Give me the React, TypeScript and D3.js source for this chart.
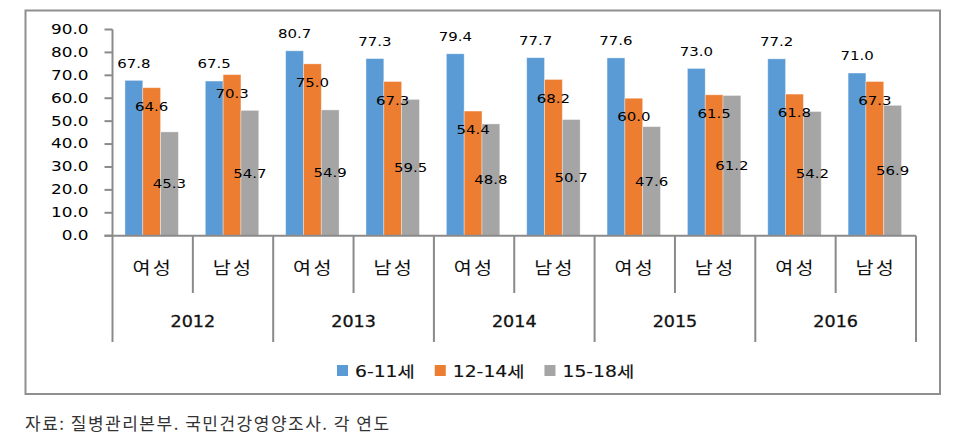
import { useRef, useEffect } from "react"
import * as d3 from "d3"

// data
const years = ["2012", "2013", "2014", "2015", "2016"]
const sexes = ["여성", "남성"]
const seriesNames = ["6-11세", "12-14세", "15-18세"]
const age6to11 = [67.8, 67.5, 80.7, 77.3, 79.4, 77.7, 77.6, 73.0, 77.2, 71.0]
const age12to14 = [64.6, 70.3, 75.0, 67.3, 54.4, 68.2, 60.0, 61.5, 61.8, 67.3]
const age15to18 = [45.3, 54.7, 54.9, 59.5, 48.8, 50.7, 47.6, 61.2, 54.2, 56.9]
const colors = ["#5B9BD5", "#ED7D31", "#A5A5A5"]
const source = "자료: 질병관리본부. 국민건강영양조사. 각 연도"

const LATIN = "'DejaVu Sans', 'Noto Sans CJK KR', sans-serif"
const KOREAN = "'Noto Sans CJK KR', sans-serif"

export default function App() {
  const svgRef = useRef<SVGSVGElement>(null)

  useEffect(() => {
    if (!svgRef.current) return
    const svg = d3.select(svgRef.current)
    svg.selectAll("*").remove()

    const left = 112.5
    const right = 916
    const top = 29.5
    const bottom = 235.7
    const axisColor = "#8a8a8a"

    // outer frame
    svg
      .append("rect")
      .attr("x", 25.5)
      .attr("y", 10.5)
      .attr("width", 914.5)
      .attr("height", 383.5)
      .attr("fill", "white")
      .attr("stroke", "#8f8f8f")
      .attr("stroke-width", 2)

    const cats = years.flatMap((yr) => sexes.map((s) => `${yr}|${s}`))
    const x0 = d3.scaleBand().domain(cats).range([left, right]).padding(0)
    const bw = x0.bandwidth()
    const cluster = bw * 0.665
    const x1 = d3
      .scaleBand()
      .domain(seriesNames)
      .range([(bw - cluster) / 2 - 1, (bw + cluster) / 2 - 1])
      .padding(0)
    const y = d3.scaleLinear().domain([0, 90]).range([bottom, top])

    const rows = cats.map((c, i) => ({
      cat: c,
      values: [age6to11[i], age12to14[i], age15to18[i]],
    }))

    const g = svg.append("g")

    // bars
    rows.forEach((r) => {
      r.values.forEach((v, k) => {
        g.append("rect")
          .attr("x", x0(r.cat)! + x1(seriesNames[k])!)
          .attr("y", y(v))
          .attr("width", x1.bandwidth())
          .attr("height", y(0) - y(v))
          .attr("fill", colors[k])
          .attr("stroke", "white")
          .attr("stroke-opacity", 0.45)
          .attr("stroke-width", 0.8)
      })
    })

    // y axis
    g.append("line")
      .attr("x1", left)
      .attr("x2", left)
      .attr("y1", top)
      .attr("y2", bottom)
      .attr("stroke", axisColor)
      .attr("stroke-width", 2)

    y.ticks(9).forEach((t) => {
      g.append("line")
        .attr("x1", left - 8)
        .attr("x2", left)
        .attr("y1", y(t))
        .attr("y2", y(t))
        .attr("stroke", axisColor)
        .attr("stroke-width", 2)
      g.append("text")
        .attr("transform", `translate(88.5, ${y(t)}) scale(1.25, 1)`)
        .attr("text-anchor", "end")
        .attr("dominant-baseline", "central")
        .attr("font-family", LATIN)
        .attr("font-size", "13.5px")
        .attr("fill", "#000")
        .text(d3.format(".1f")(t))
    })

    // category axis
    g.append("line")
      .attr("x1", left - 8)
      .attr("x2", right)
      .attr("y1", bottom)
      .attr("y2", bottom)
      .attr("stroke", axisColor)
      .attr("stroke-width", 2)

    cats.forEach((c, i) => {
      const xs = x0(c)!
      const long = i % 2 === 0
      g.append("line")
        .attr("x1", xs)
        .attr("x2", xs)
        .attr("y1", bottom)
        .attr("y2", long ? 342 : 293)
        .attr("stroke", axisColor)
        .attr("stroke-width", 2)
      g.append("text")
        .attr("transform", `translate(${xs + bw / 2}, 266.5) scale(1.15, 1)`)
        .attr("text-anchor", "middle")
        .attr("dominant-baseline", "central")
        .attr("font-family", KOREAN)
        .attr("font-size", "17px")
        .attr("letter-spacing", "2px")
        .attr("fill", "#111")
        .text(c.split("|")[1])
    })
    g.append("line")
      .attr("x1", right)
      .attr("x2", right)
      .attr("y1", bottom)
      .attr("y2", 342)
      .attr("stroke", axisColor)
      .attr("stroke-width", 2)

    years.forEach((yr) => {
      const xs = x0(`${yr}|${sexes[0]}`)!
      g.append("text")
        .attr("transform", `translate(${xs + bw}, 321.5) scale(1.17, 1)`)
        .attr("text-anchor", "middle")
        .attr("dominant-baseline", "central")
        .attr("font-family", LATIN)
        .attr("font-size", "15px")
        .attr("fill", "#111")
        .attr("stroke", "#111")
        .attr("stroke-width", 0.3)
        .text(yr)
    })

    // value labels
    rows.forEach((r) => {
      r.values.forEach((v, k) => {
        const cx = x0(r.cat)! + x1(seriesNames[k])! + x1.bandwidth() / 2
        let cy = 0
        if (k === 0) cy = y(v) - 17.5
        else if (k === 1) cy = y(v) + 18.5
        else cy = (y(v) + y(0)) / 2
        g.append("text")
          .attr("transform", `translate(${cx}, ${cy}) scale(1.15, 1)`)
          .attr("text-anchor", "middle")
          .attr("dominant-baseline", "central")
          .attr("font-family", LATIN)
          .attr("font-size", "13px")
          .attr("fill", "#000")
          .text(v.toFixed(1))
      })
    })

    // legend
    const legend = svg.append("g").attr("transform", "translate(337, 371.5)")
    let lx = 0
    seriesNames.forEach((name, k) => {
      legend
        .append("rect")
        .attr("x", lx)
        .attr("y", -6.5)
        .attr("width", 11)
        .attr("height", 11)
        .attr("fill", colors[k])
      const t = legend
        .append("text")
        .attr("transform", `translate(${lx + 18}, 0) scale(1.25, 1)`)
        .attr("dominant-baseline", "central")
        .attr("font-family", LATIN)
        .attr("font-size", "15px")
        .attr("fill", "#111")
        .attr("stroke", "#111")
        .attr("stroke-width", 0.15)
        .text(name)
      const w = (t.node() as SVGTextElement).getComputedTextLength() * 1.25
      lx += 18 + w + 20
    })

    // source note
    svg
      .append("text")
      .attr("x", 25)
      .attr("y", 422)
      .attr("dominant-baseline", "central")
      .attr("font-family", KOREAN)
      .attr("font-size", "17px")
      .attr("letter-spacing", "1.5px")
      .attr("fill", "#333")
      .text(source)
  }, [])

  return (
    <svg
      ref={svgRef}
      width={960}
      height={446}
      style={{ position: "absolute", left: 0, top: 0, background: "white" }}
    />
  )
}
